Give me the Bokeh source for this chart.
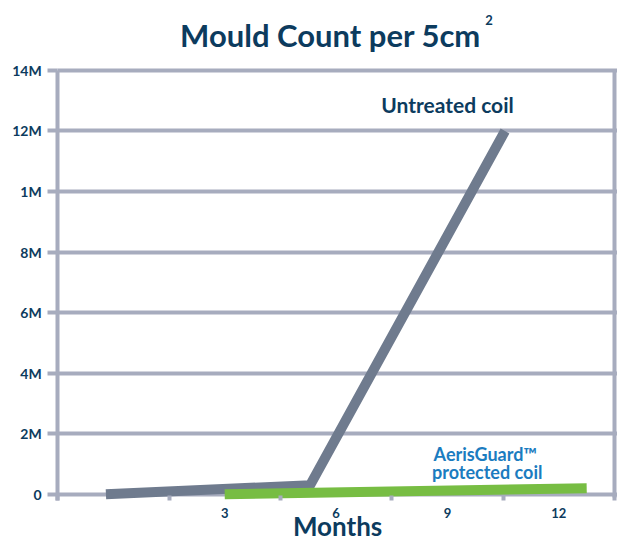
from bokeh.plotting import figure
from bokeh.models import Range1d, FixedTicker, Label, LinearAxis
from bokeh.embed import file_html
from bokeh.resources import INLINE

# ---- data (mould count in millions) ----
months_untreated = [-0.2, 5.3, 10.55]
mould_untreated = [0.0, 0.3, 12.0]
months_protected = [3.0, 12.75]
mould_protected = [0.0, 0.2]

y_ticks = [0, 2, 4, 6, 8, 10, 12, 14]
y_tick_labels = ["0", "2M", "4M", "6M", "8M", "1M", "12M", "14M"]
x_ticks = [3, 6, 9, 12]
x_tick_labels = ["3", "6", "9", "12"]
x_bin_edges = [-1.5, 1.5, 4.5, 7.5, 10.5, 13.5]

NAVY = "#0c3b5e"
GRID = "#a7acbe"
GRAY = "#6f7b8e"
GREEN = "#77bd43"
BLUE = "#1b7cc0"
FONT = "Lato"

X0, X1 = -3.04, 13.58
Y0, Y1 = -1.595, 16.31
AXIS_Y = -0.195          # where the month axis sits (just under the 0 line)

p = figure(width=617, height=542, output_backend="svg", toolbar_location=None,
           x_range=Range1d(X0, X1), y_range=Range1d(Y0, Y1), min_border=0)
p.outline_line_color = None
p.background_fill_color = "white"
p.border_fill_color = "white"

# y axis (drawn inside the frame at the first bin edge)
ya = p.yaxis[0]
ya.fixed_location = x_bin_edges[0]
ya.bounds = (AXIS_Y, y_ticks[-1])
ya.ticker = FixedTicker(ticks=y_ticks, minor_ticks=[])
ya.major_label_overrides = {t: l for t, l in zip(y_ticks, y_tick_labels)}
ya.axis_line_color = GRID
ya.axis_line_width = 4
ya.major_tick_line_color = GRID
ya.major_tick_line_width = 4
ya.major_tick_out = 10
ya.major_tick_in = 0
ya.minor_tick_line_color = None
ya.major_label_standoff = 6
ya.major_label_text_font = FONT
ya.major_label_text_font_size = "14px"
ya.major_label_text_font_style = "bold"
ya.major_label_text_color = NAVY

# x axis (month labels centred in bins, tick marks at bin edges)
xa = p.xaxis[0]
xa.fixed_location = AXIS_Y
xa.ticker = FixedTicker(ticks=x_ticks, minor_ticks=x_bin_edges)
xa.major_label_overrides = {t: l for t, l in zip(x_ticks, x_tick_labels)}
xa.axis_line_color = None
xa.major_tick_line_color = None
xa.minor_tick_line_color = GRID
xa.minor_tick_line_width = 4
xa.minor_tick_in = 5
xa.minor_tick_out = 0
xa.major_label_standoff = 2
xa.major_label_text_font = FONT
xa.major_label_text_font_size = "13px"
xa.major_label_text_font_style = "bold"
xa.major_label_text_color = NAVY

# right-hand border line
ra = LinearAxis(fixed_location=x_bin_edges[-1], bounds=(-0.1, y_ticks[-1]),
                ticker=FixedTicker(ticks=[], minor_ticks=[]))
ra.axis_line_color = GRID
ra.axis_line_width = 4
ra.major_tick_line_color = None
ra.minor_tick_line_color = None
ra.major_label_text_color = None
p.add_layout(ra, "right")

p.xgrid.visible = False
p.ygrid.ticker = FixedTicker(ticks=y_ticks, minor_ticks=[])
p.ygrid.cross_bounds = (x_bin_edges[0], X1)
p.ygrid.grid_line_color = GRID
p.ygrid.grid_line_width = 4

# series
p.line(months_untreated, mould_untreated, line_color=GRAY, line_width=10,
       line_join="miter", line_cap="butt")
p.line(months_protected, mould_protected, line_color=GREEN, line_width=10,
       line_join="miter", line_cap="butt")

def lab(x, y, text, size, color, align="center"):
    p.add_layout(Label(x=x, y=y, text=text, text_align=align,
                       text_baseline="alphabetic", text_font=FONT,
                       text_font_size=size, text_font_style="bold",
                       text_color=color))

lab(5.85, 15.17, "Mould Count per 5cm", "31px", NAVY)
lab(10.12, 15.65, "2", "13px", NAVY)
lab(9.0, 12.88, "Untreated coil", "21px", NAVY)
lab(10.02, 1.32, "AerisGuard\u2122", "18px", BLUE)
lab(10.07, 0.72, "protected coil", "18px", BLUE)
lab(6.04, -1.06, "Months", "26px", NAVY)

open("out.html", "w").write(file_html(p, INLINE))
